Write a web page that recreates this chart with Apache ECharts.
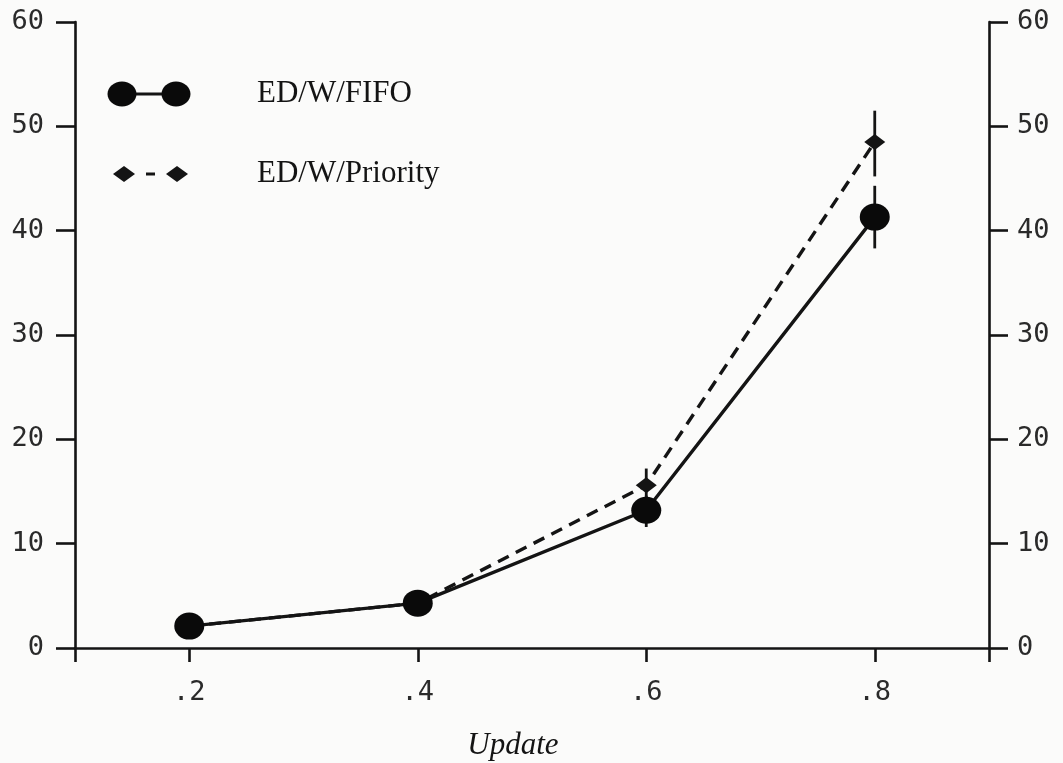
<!DOCTYPE html>
<html>
<head>
<meta charset="utf-8">
<script src="https://cdn.jsdelivr.net/npm/echarts@6/dist/echarts.min.js"></script>
<style>
  html, body { margin: 0; padding: 0; background: #fbfbfa; }
  #chart { width: 1063px; height: 763px; }
</style>
</head>
<body>
<div id="chart"></div>
<script>
// Update rate on the x axis
const updateRates = [0.2, 0.4, 0.6, 0.8];
// Mean values per scheduling policy
const fifoValues = [2.1, 4.3, 13.2, 41.3];
const priorityValues = [2.1, 4.3, 15.6, 48.5];
// Error bar extents (null = no bar drawn)
const fifoErrLow = [null, null, 11.6, 38.3];
const fifoErrHigh = [null, null, 14.6, 44.3];
const priorityErrLow = [null, null, 14.0, 45.2];
const priorityErrHigh = [null, null, 17.2, 51.5];
// Axis ticks
const xTickLabels = [0.2, 0.4, 0.6, 0.8];
const xTickMarks = [0.1, 0.2, 0.4, 0.6, 0.8, 0.9];
const seriesNames = ['ED/W/FIFO', 'ED/W/Priority'];

const INK = '#141414';
const monoFont = '"DejaVu Sans Mono", monospace';
const serifFont = '"Liberation Serif", "Times New Roman", serif';

function pairs(xs, ys) {
  return xs.map((x, i) => [x, ys[i]]);
}
function errData(xs, lo, hi) {
  const out = [];
  xs.forEach((x, i) => { if (lo[i] != null && hi[i] != null) out.push([x, lo[i], hi[i]]); });
  return out;
}
function errorBarSeries(data) {
  return {
    type: 'custom',
    z: 1,
    silent: true,
    data: data,
    encode: { x: 0, y: [1, 2] },
    renderItem: function (params, api) {
      const top = api.coord([api.value(0), api.value(2)]);
      const bot = api.coord([api.value(0), api.value(1)]);
      return {
        type: 'line',
        shape: { x1: top[0], y1: top[1], x2: bot[0], y2: bot[1] },
        style: { stroke: INK, lineWidth: 2.8 }
      };
    }
  };
}

const yAxisCommon = {
  type: 'value',
  min: 0, max: 60, interval: 10,
  splitLine: { show: false },
  axisLine: { show: true, lineStyle: { color: INK, width: 2.6 } },
  axisTick: { show: true, inside: false, length: 19, lineStyle: { color: INK, width: 2.6 } },
  axisLabel: { fontFamily: monoFont, fontSize: 27, color: '#2a2a2a' }
};

const chart = echarts.init(document.getElementById('chart'));
chart.setOption({
  backgroundColor: '#fbfbfa',
  animation: false,
  grid: { left: 75, right: 74, top: 22, bottom: 115, outerBoundsMode: 'none' },
  xAxis: {
    type: 'value',
    min: 0.1, max: 0.9,
    splitLine: { show: false },
    axisLine: { show: true, onZero: false, lineStyle: { color: INK, width: 2.6 } },
    axisTick: { show: true, length: 14, customValues: xTickMarks, lineStyle: { color: INK, width: 2.6 } },
    axisLabel: {
      customValues: xTickLabels,
      margin: 31,
      fontFamily: monoFont, fontSize: 27, color: '#2a2a2a',
      formatter: v => String(v).replace(/^0/, '')
    },
    name: 'Update',
    nameLocation: 'middle',
    nameGap: 82,
    nameTextStyle: { fontFamily: serifFont, fontStyle: 'italic', fontSize: 31, color: INK, padding: [0, 38, 0, 0] }
  },
  yAxis: [
    Object.assign({}, yAxisCommon, { position: 'left', axisLabel: Object.assign({}, yAxisCommon.axisLabel, { margin: 31 }) }),
    Object.assign({}, yAxisCommon, { position: 'right', axisLabel: Object.assign({}, yAxisCommon.axisLabel, { margin: 28 }) })
  ],
  series: [
    errorBarSeries(errData(updateRates, priorityErrLow, priorityErrHigh)),
    errorBarSeries(errData(updateRates, fifoErrLow, fifoErrHigh)),
    {
      name: seriesNames[1],
      type: 'line',
      z: 3,
      data: pairs(updateRates, priorityValues),
      symbol: 'diamond',
      symbolSize: [21, 16],
      itemStyle: { color: INK },
      lineStyle: { color: INK, width: 3.4, type: [12, 8] }
    },
    {
      name: seriesNames[0],
      type: 'line',
      z: 4,
      data: pairs(updateRates, fifoValues),
      symbol: 'circle',
      symbolSize: [30, 27],
      itemStyle: { color: '#0a0a0a' },
      lineStyle: { color: INK, width: 3.4 }
    }
  ],
  graphic: [
    // Legend: FIFO
    { type: 'line', shape: { x1: 122, y1: 94, x2: 176, y2: 94 }, style: { stroke: INK, lineWidth: 3 } },
    { type: 'ellipse', shape: { cx: 122, cy: 94, rx: 14.5, ry: 12.5 }, style: { fill: '#0a0a0a' } },
    { type: 'ellipse', shape: { cx: 176, cy: 94, rx: 14.5, ry: 12.5 }, style: { fill: '#0a0a0a' } },
    { type: 'text', left: 257, top: 78, style: { text: seriesNames[0], font: '31px ' + serifFont, fill: INK } },
    // Legend: Priority
    { type: 'line', shape: { x1: 146, y1: 174, x2: 155, y2: 174 }, style: { stroke: INK, lineWidth: 3 } },
    { type: 'polygon', shape: { points: [[113, 174], [124, 166], [135, 174], [124, 182]] }, style: { fill: INK } },
    { type: 'polygon', shape: { points: [[166, 174], [177, 166], [188, 174], [177, 182]] }, style: { fill: INK } },
    { type: 'text', left: 257, top: 158, style: { text: seriesNames[1], font: '31px ' + serifFont, fill: INK } }
  ]
});
</script>
</body>
</html>
